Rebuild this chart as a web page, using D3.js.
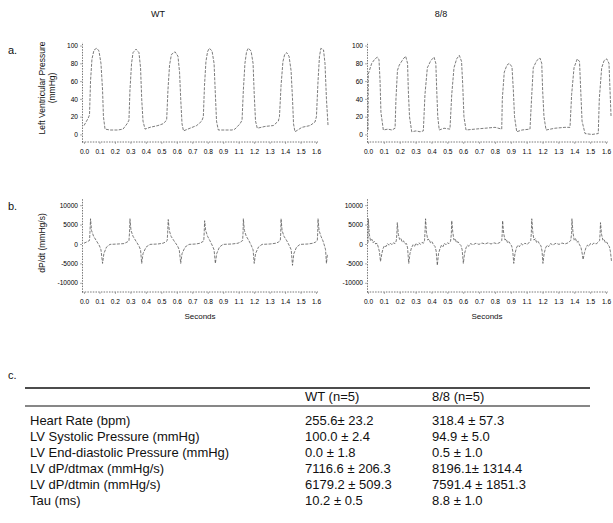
<!DOCTYPE html>
<html>
<head>
<meta charset="utf-8">
<script src="https://cdn.jsdelivr.net/npm/d3@7/dist/d3.min.js"></script>
<style>
  body { margin: 0; background: #fff; }
  svg { display: block; font-family: "Liberation Sans", Arial, sans-serif; }
</style>
</head>
<body>
<svg id="chart" width="613" height="523"></svg>
<script>
// ---- data ----
const groups = ['WT', '8/8'];
const timeLabels = ['0.0', '0.1', '0.2', '0.3', '0.4', '0.5', '0.6', '0.7', '0.8', '0.9', '1.1', '1.2', '1.3', '1.4', '1.5', '1.6'];
const pressureTicks = [0, 20, 40, 60, 80, 100];
const dpdtTicks = [10000, 5000, 0, -5000, -10000];

// [seconds, mmHg]
const wtPressure = [
  [0.000, 10], [0.028, 18], [0.038, 22], [0.045, 60], [0.055, 85], [0.069, 95], [0.088, 97], [0.103, 94],
  [0.117, 80], [0.128, 50], [0.134, 20], [0.145, 6], [0.179, 5], [0.234, 5], [0.269, 6], [0.297, 12],
  [0.310, 16], [0.317, 50], [0.328, 80], [0.338, 92], [0.359, 96], [0.379, 92], [0.390, 75], [0.398, 40],
  [0.407, 15], [0.421, 6], [0.455, 8], [0.510, 10], [0.545, 12], [0.570, 16], [0.579, 50], [0.590, 78],
  [0.603, 90], [0.628, 93], [0.648, 88], [0.659, 70], [0.667, 40], [0.676, 12], [0.686, 4], [0.731, 7],
  [0.777, 10], [0.812, 15], [0.823, 20], [0.831, 55], [0.841, 82], [0.852, 93], [0.864, 97], [0.883, 94],
  [0.897, 80], [0.906, 45], [0.914, 15], [0.926, 5], [0.972, 5], [1.021, 5], [1.041, 6], [1.076, 12],
  [1.090, 16], [1.099, 50], [1.110, 80], [1.121, 93], [1.133, 97], [1.152, 94], [1.166, 80], [1.174, 45],
  [1.183, 15], [1.195, 7], [1.248, 9], [1.306, 10], [1.340, 15], [1.348, 20], [1.359, 55], [1.372, 82],
  [1.384, 90], [1.398, 92], [1.414, 88], [1.428, 72], [1.438, 40], [1.445, 12], [1.455, 3], [1.503, 8],
  [1.559, 10], [1.593, 14], [1.603, 20], [1.614, 60], [1.624, 88], [1.634, 97], [1.652, 95], [1.662, 80],
  [1.672, 40], [1.683, 10]
];

const mutPressure = [
  [0.000, 5], [0.002, 68], [0.025, 80], [0.047, 85], [0.063, 87], [0.074, 84], [0.081, 60], [0.087, 25],
  [0.103, 5], [0.134, 6], [0.161, 5], [0.182, 7], [0.188, 40], [0.198, 72], [0.210, 78], [0.237, 85],
  [0.253, 88], [0.266, 80], [0.271, 50], [0.279, 20], [0.294, 3], [0.323, 4], [0.350, 3], [0.372, 4],
  [0.383, 45], [0.399, 75], [0.422, 83], [0.444, 87], [0.456, 80], [0.462, 50], [0.469, 20], [0.479, 5],
  [0.511, 7], [0.551, 6], [0.563, 45], [0.578, 75], [0.596, 85], [0.614, 89], [0.629, 82], [0.637, 55],
  [0.645, 20], [0.659, 5], [0.719, 6], [0.787, 7], [0.854, 8], [0.899, 6], [0.903, 40], [0.916, 70],
  [0.934, 78], [0.950, 80], [0.968, 76], [0.977, 50], [0.985, 20], [1.000, 3], [1.035, 5], [1.089, 6],
  [1.101, 45], [1.111, 75], [1.134, 83], [1.156, 86], [1.168, 80], [1.174, 50], [1.183, 20], [1.197, 5],
  [1.257, 7], [1.324, 8], [1.358, 8], [1.369, 45], [1.385, 75], [1.407, 85], [1.422, 82], [1.430, 50],
  [1.439, 15], [1.459, 1], [1.506, 0], [1.548, 1], [1.555, 40], [1.571, 75], [1.587, 83], [1.605, 85],
  [1.620, 80], [1.627, 50], [1.634, 20]
];

// [seconds, mmHg/s]
const wtDpdt = [
  [0.000, 200], [0.017, 500], [0.038, 900], [0.041, 3000], [0.045, 6500], [0.052, 3500], [0.066, 2000],
  [0.086, 800], [0.107, -500], [0.117, -1500], [0.128, -5000], [0.137, -2500], [0.155, -800], [0.179, -100],
  [0.234, 0], [0.276, 100], [0.297, 500], [0.310, 800], [0.314, 3000], [0.317, 6500], [0.324, 3500],
  [0.338, 2000], [0.359, 700], [0.379, -500], [0.390, -1500], [0.398, -5000], [0.407, -2500], [0.428, -800],
  [0.455, -100], [0.510, 0], [0.545, 200], [0.562, 500], [0.574, 900], [0.577, 3000], [0.581, 6300],
  [0.588, 3500], [0.600, 2000], [0.621, 800], [0.645, -500], [0.657, -1500], [0.667, -5000], [0.676, -2500],
  [0.697, -800], [0.724, -100], [0.772, 0], [0.800, 200], [0.814, 500], [0.826, 800], [0.829, 3000],
  [0.832, 6000], [0.839, 3500], [0.852, 2000], [0.869, 800], [0.886, -500], [0.897, -1500], [0.906, -5000],
  [0.915, -2500], [0.934, -800], [0.959, -100], [1.021, 0], [1.062, 200], [1.079, 500], [1.094, 900],
  [1.097, 3000], [1.099, 6500], [1.106, 3500], [1.119, 2000], [1.138, 800], [1.155, -500], [1.166, -1500],
  [1.174, -5000], [1.183, -2500], [1.203, -800], [1.228, -100], [1.283, 0], [1.324, 200], [1.341, 500],
  [1.354, 900], [1.357, 3000], [1.359, 6500], [1.366, 3500], [1.379, 2000], [1.399, 800], [1.417, -500],
  [1.429, -1500], [1.438, -5500], [1.447, -2500], [1.466, -800], [1.490, -100], [1.545, 0], [1.579, 200],
  [1.597, 500], [1.609, 900], [1.612, 3000], [1.614, 6500], [1.621, 3500], [1.634, 2000], [1.648, 800],
  [1.659, -500], [1.666, -1500], [1.672, -5000], [1.679, -2500]
];

const mutDpdt = [
  [0.000, 300], [0.002, 6500], [0.009, 2500], [0.017, 800], [0.026, 1200], [0.034, 300], [0.042, 700],
  [0.052, 0], [0.061, 200], [0.069, -800], [0.077, -2000], [0.084, -4500], [0.093, -2500], [0.101, -1200],
  [0.111, -400], [0.121, -700], [0.131, 100], [0.141, -300], [0.151, 200], [0.161, -200], [0.171, 300],
  [0.182, 100], [0.190, 800], [0.194, 2500], [0.197, 5500], [0.204, 2500], [0.212, 1200], [0.221, 1500],
  [0.229, 500], [0.239, 800], [0.249, 0], [0.259, 100], [0.266, -1000], [0.274, -5000], [0.282, -2500],
  [0.292, -1000], [0.303, -200], [0.313, -600], [0.323, 200], [0.333, -300], [0.343, 300], [0.353, -100],
  [0.363, 400], [0.373, 200], [0.380, 900], [0.383, 3000], [0.387, 6500], [0.393, 3000], [0.402, 1000],
  [0.410, 1300], [0.420, 300], [0.430, 600], [0.440, -200], [0.450, -600], [0.458, -1800], [0.466, -5500],
  [0.474, -2500], [0.484, -1200], [0.494, -300], [0.504, -700], [0.514, 200], [0.524, -200], [0.534, 300],
  [0.544, 100], [0.555, 700], [0.560, 2500], [0.563, 6000], [0.570, 3000], [0.578, 1000], [0.587, 1300],
  [0.595, 300], [0.605, 600], [0.615, 0], [0.625, -400], [0.633, -1500], [0.641, -5000], [0.649, -2500],
  [0.659, -1000], [0.669, -300], [0.679, -600], [0.689, 100], [0.706, -200], [0.726, 200], [0.746, -100],
  [0.766, 250], [0.787, 0], [0.807, 300], [0.827, 0], [0.847, 300], [0.867, 50], [0.887, 400], [0.899, 900],
  [0.902, 2500], [0.905, 6000], [0.912, 2800], [0.921, 1000], [0.929, 1300], [0.938, 300], [0.948, 600],
  [0.958, -100], [0.966, -500], [0.973, -1800], [0.980, -5000], [0.988, -2500], [0.998, -1000], [1.008, -300],
  [1.018, -700], [1.029, 100], [1.042, -300], [1.055, 200], [1.069, -100], [1.082, 300], [1.094, 900],
  [1.098, 2800], [1.101, 6500], [1.108, 3000], [1.116, 1000], [1.125, 1400], [1.133, 400], [1.143, 700],
  [1.153, 0], [1.163, -500], [1.170, -1800], [1.176, -5000], [1.184, -2500], [1.194, -1000], [1.204, -300],
  [1.214, -700], [1.227, 100], [1.243, -250], [1.264, 200], [1.284, -100], [1.304, 250], [1.324, 0],
  [1.345, 300], [1.363, 900], [1.369, 2800], [1.371, 6500], [1.378, 3000], [1.386, 1000], [1.395, 1400],
  [1.404, 400], [1.413, 700], [1.422, -200], [1.431, -800], [1.438, -2000], [1.446, -4000], [1.455, -2300],
  [1.465, -1000], [1.475, -300], [1.485, -600], [1.495, 100], [1.506, -200], [1.519, 250], [1.533, 0],
  [1.546, 400], [1.557, 900], [1.560, 2500], [1.563, 5500], [1.570, 2500], [1.579, 1000], [1.587, 1200],
  [1.596, 300], [1.605, 500], [1.614, -200], [1.623, -700], [1.630, -2000], [1.637, -4500]
];

// table (panel c)
const tableHeader = ['WT (n=5)', '8/8 (n=5)'];
const tableRows = ['Heart Rate (bpm)', 'LV Systolic Pressure (mmHg)', 'LV End-diastolic Pressure (mmHg)',
  'LV dP/dtmax (mmHg/s)', 'LV dP/dtmin (mmHg/s)', 'Tau (ms)'];
const wtValues = ['255.6\u00b1 23.2', '100.0 \u00b1 2.4', '0.0 \u00b1 1.8', '7116.6 \u00b1 206.3', '6179.2 \u00b1 509.3', '10.2 \u00b1 0.5'];
const mutValues = ['318.4 \u00b1 57.3', '94.9 \u00b1 5.0', '0.5 \u00b1 1.0', '8196.1\u00b1 1314.4', '7591.4 \u00b1 1851.3', '8.8 \u00b1 1.0'];

// ---- drawing ----
const svg = d3.select('#chart')
const ink = '#111'

// horizontal placement of the two columns of plots
const columns = [
  { left: 84, right: 316, axisX: 82, pressure: wtPressure, dpdt: wtDpdt },
  { left: 368, right: 606, axisX: 367, pressure: mutPressure, dpdt: mutDpdt }
]

// group titles
columns.forEach((c, i) => {
  svg.append('text')
    .attr('x', i === 0 ? 158 : 441).attr('y', 17)
    .attr('text-anchor', 'middle')
    .style('font-size', '9px').style('fill', ink)
    .text(groups[i])
})

// panel letters
;[['a.', 54], ['b.', 210], ['c.', 379]].forEach(([t, yy]) => {
  svg.append('text').attr('x', 8).attr('y', yy)
    .style('font-size', '11px').style('fill', ink).text(t)
})

const yPressure = d3.scaleLinear().domain([-8.5, 104]).range([142, 42])
const yDpdt = d3.scaleLinear().domain([-12370, 11850]).range([292, 198])

// plain hyphen for negatives, like the scanned figure
const plainInt = d => String(d)

function styleAxis(g) {
  g.selectAll('path.domain')
    .attr('stroke', '#555').attr('stroke-width', 0.8).attr('stroke-dasharray', '1.5,1.2')
  g.selectAll('line').attr('stroke', '#777').attr('stroke-width', 0.6)
  g.selectAll('text').style('font-size', '6.6px').style('fill', '#000')
  g.attr('font-family', null)
}

function drawPanel(c, data, y, ticks, baseY) {
  const x = d3.scaleLinear().domain([0, 1.6]).range([c.left, c.right])
  const xLabels = d3.scalePoint().domain(timeLabels).range([c.left, c.right])

  // y axis
  const gy = svg.append('g')
    .attr('transform', 'translate(' + c.axisX + ',0)')
    .call(d3.axisLeft(y).tickValues(ticks).tickFormat(plainInt)
      .tickSize(2).tickPadding(2).tickSizeOuter(0))
  styleAxis(gy)

  // x axis
  const gx = svg.append('g')
    .attr('transform', 'translate(0,' + baseY + ')')
    .call(d3.axisBottom(xLabels).tickSize(2).tickPadding(5).tickSizeOuter(0))
  gx.select('path.domain').attr('d', 'M' + c.axisX + ',0H' + (c.right + 2))
  styleAxis(gx)

  // trace
  const line = d3.line()
    .x(function (d) { return x(d[0]) })
    .y(function (d) { return y(d[1]) })

  svg.append('path')
    .datum(data)
    .attr('d', line)
    .attr('fill', 'none')
    .attr('stroke', '#505050')
    .attr('stroke-width', 0.75)
    .attr('stroke-dasharray', '3,1.3')
}

columns.forEach(c => {
  drawPanel(c, c.pressure, yPressure, pressureTicks, 142)
  drawPanel(c, c.dpdt, yDpdt, dpdtTicks, 292)
  svg.append('text')
    .attr('x', (c.left + c.right) / 2).attr('y', 319)
    .attr('text-anchor', 'middle')
    .style('font-size', '8px').style('fill', ink)
    .text('Seconds')
})

// y axis titles
svg.append('text')
  .attr('transform', 'translate(45,88) rotate(-90)')
  .attr('text-anchor', 'middle').style('font-size', '8.5px').style('fill', ink)
  .text('Left Ventricular Pressure')
svg.append('text')
  .attr('transform', 'translate(55,88) rotate(-90)')
  .attr('text-anchor', 'middle').style('font-size', '8.5px').style('fill', ink)
  .text('(mmHg)')
svg.append('text')
  .attr('transform', 'translate(45,243) rotate(-90)')
  .attr('text-anchor', 'middle').style('font-size', '8.5px').style('fill', ink)
  .text('dP/dt (mmHg/s)')

// ---- table ----
const colX = [30, 305, 432]
const rowY = d3.scalePoint().domain(tableRows).range([425, 505])

svg.append('line').attr('x1', 25).attr('x2', 590).attr('y1', 388).attr('y2', 388)
  .attr('stroke', '#111').attr('stroke-width', 1.4)
svg.append('line').attr('x1', 25).attr('x2', 590).attr('y1', 406).attr('y2', 406)
  .attr('stroke', '#111').attr('stroke-width', 1.2)

tableHeader.forEach((h, i) => {
  svg.append('text').attr('x', colX[i + 1]).attr('y', 401)
    .style('font-size', '13px').style('fill', ink).text(h)
})

tableRows.forEach((r, i) => {
  const yy = rowY(r)
  svg.append('text').attr('x', colX[0]).attr('y', yy)
    .style('font-size', '13px').style('fill', ink).text(r)
  svg.append('text').attr('x', colX[1]).attr('y', yy)
    .style('font-size', '13px').style('fill', ink).text(wtValues[i])
  svg.append('text').attr('x', colX[2]).attr('y', yy)
    .style('font-size', '13px').style('fill', ink).text(mutValues[i])
})
</script>
</body>
</html>
